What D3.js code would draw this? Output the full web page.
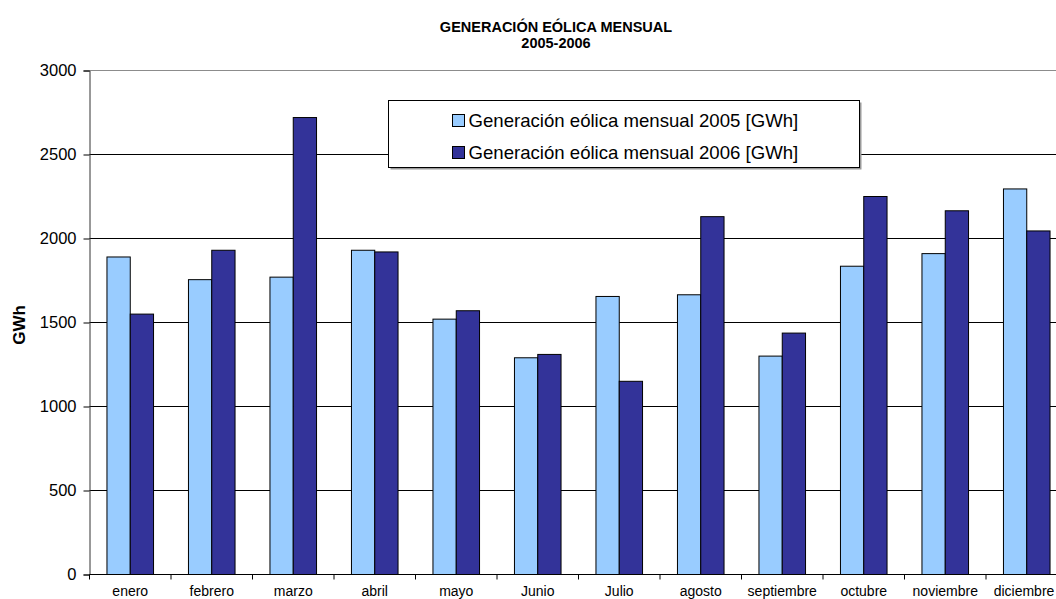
<!DOCTYPE html>
<html>
<head>
<meta charset="utf-8">
<script src="https://cdn.jsdelivr.net/npm/d3@7"></script>
<style>
    body { margin: 0; background: #fff; overflow: hidden; }
    text { font-family: "Liberation Sans", Arial, sans-serif; }
</style>
</head>
<body>
<div id="chart-area"></div>
<script>

// monthly wind generation, GWh
var months = ["enero", "febrero", "marzo", "abril", "mayo", "Junio", "Julio",
    "agosto", "septiembre", "octubre", "noviembre", "diciembre"];
var gen2005 = [1890, 1755, 1770, 1930, 1520, 1290, 1655, 1665, 1300, 1835, 1910, 2295];
var gen2006 = [1550, 1930, 2720, 1920, 1570, 1310, 1150, 2130, 1437, 2250, 2165, 2045];
var seriesNames = ["Generación eólica mensual 2005 [GWh]", "Generación eólica mensual 2006 [GWh]"];
var yTicks = [0, 500, 1000, 1500, 2000, 2500, 3000];

var colors = ["#99ccff", "#333399"];

var data = months.map(function(m, i) {
    return {month: m, values: [gen2005[i], gen2006[i]]};
});

var margin = {top: 70.5, left: 89.5},
    width = 978,
    height = 504;

var svg = d3.select("#chart-area").append("svg")
    .attr("width", 1056)
    .attr("height", 599);

var g = svg.append("g")
    .attr("transform", "translate(" + margin.left + "," + margin.top + ")");

// scales
var x0 = d3.scaleBand()
    .domain(months)
    .range([0, width])
    .padding(0);

var x1 = d3.scaleBand()
    .domain([0, 1])
    .range([0, x0.bandwidth()])
    .paddingInner(0)
    .paddingOuter(0.75);

var y = d3.scaleLinear()
    .domain([0, 3000])
    .range([height, 0]);

// gridlines
g.selectAll("line.grid")
    .data(yTicks.filter(function(d) { return d > 0; }))
    .enter().append("line")
    .attr("class", "grid")
    .attr("x1", 0)
    .attr("x2", width)
    .attr("y1", function(d) { return y(d); })
    .attr("y2", function(d) { return y(d); })
    .attr("stroke", function(d) { return d === 3000 ? "#8c8c8c" : "#000"; })
    .attr("stroke-width", 1);

// bars
var groups = g.selectAll("g.month")
    .data(data)
    .enter().append("g")
    .attr("class", "month")
    .attr("transform", function(d) { return "translate(" + x0(d.month) + ",0)"; });

groups.selectAll("rect")
    .data(function(d) { return d.values; })
    .enter().append("rect")
    .attr("x", function(d, i) { return x1(i); })
    .attr("y", function(d) { return y(d); })
    .attr("width", x1.bandwidth())
    .attr("height", function(d) { return height - y(d); })
    .attr("fill", function(d, i) { return colors[i]; })
    .attr("stroke", "#000")
    .attr("stroke-width", 1);

// y axis
var yAxis = g.append("g")
    .call(d3.axisLeft(y).tickValues(yTicks).tickFormat(d3.format("d")).tickSize(6).tickPadding(7));
yAxis.select(".domain").attr("stroke", "#333");
yAxis.selectAll("text")
    .attr("font-size", "16.5px")
    .attr("fill", "#000");

// x axis: baseline, ticks between categories, labels
g.append("line")
    .attr("x1", 0)
    .attr("x2", width)
    .attr("y1", height)
    .attr("y2", height)
    .attr("stroke", "#000");

var bounds = months.map(function(m) { return x0(m); });
bounds.push(width);

g.selectAll("line.xtick")
    .data(bounds)
    .enter().append("line")
    .attr("class", "xtick")
    .attr("x1", function(d) { return d; })
    .attr("x2", function(d) { return d; })
    .attr("y1", height)
    .attr("y2", height + 5)
    .attr("stroke", "#000");

// keep the last label inside the picture
g.selectAll("text.xlabel")
    .data(months)
    .enter().append("text")
    .attr("class", "xlabel")
    .attr("x", function(d) { return Math.min(x0(d) + x0.bandwidth() / 2, 1056 - margin.left - 32); })
    .attr("y", height + 21)
    .attr("text-anchor", "middle")
    .attr("font-size", "14px")
    .text(function(d) { return d; });

// y axis title
svg.append("text")
    .attr("transform", "translate(25,325) rotate(-90)")
    .attr("text-anchor", "middle")
    .attr("font-size", "17px")
    .attr("font-weight", "bold")
    .text("GWh");

// chart title
svg.append("text")
    .attr("x", 556)
    .attr("y", 32)
    .attr("text-anchor", "middle")
    .attr("font-size", "14.5px")
    .attr("font-weight", "bold")
    .text("GENERACIÓN EÓLICA MENSUAL");

svg.append("text")
    .attr("x", 556)
    .attr("y", 48)
    .attr("text-anchor", "middle")
    .attr("font-size", "14.5px")
    .attr("font-weight", "bold")
    .text("2005-2006");

// legend
var legend = svg.append("g")
    .attr("transform", "translate(388.5,100.5)");

legend.append("rect")
    .attr("x", 2)
    .attr("y", 2)
    .attr("width", 471)
    .attr("height", 67)
    .attr("fill", "#9a9a9a");

legend.append("rect")
    .attr("width", 471)
    .attr("height", 67)
    .attr("fill", "#fff")
    .attr("stroke", "#000");

var items = legend.selectAll("g.item")
    .data(seriesNames)
    .enter().append("g")
    .attr("class", "item")
    .attr("transform", function(d, i) { return "translate(64," + (14 + i * 32) + ")"; });

items.append("rect")
    .attr("width", 12)
    .attr("height", 12)
    .attr("fill", function(d, i) { return colors[i]; })
    .attr("stroke", "#000");

items.append("text")
    .attr("x", 16)
    .attr("y", 12)
    .attr("font-size", "18.6px")
    .text(function(d) { return d; });

</script>
</body>
</html>
